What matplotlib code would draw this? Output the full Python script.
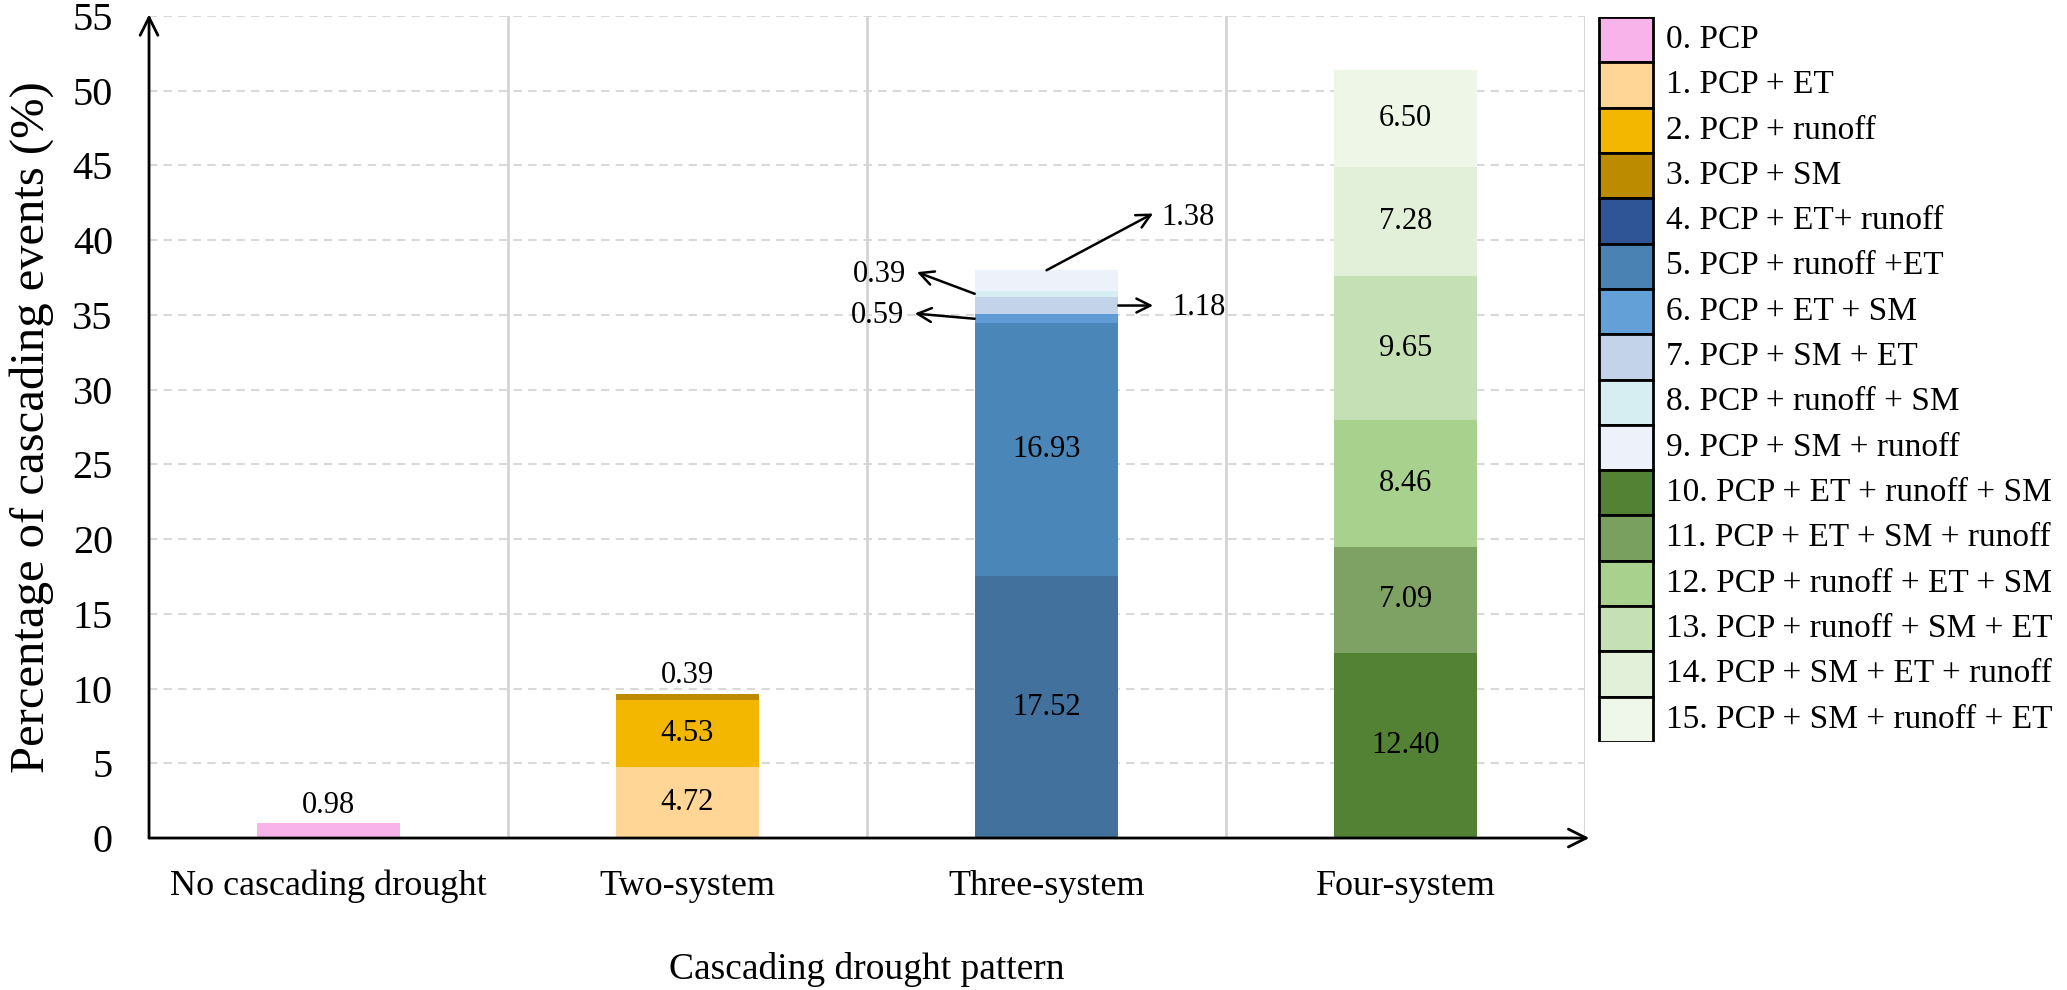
import numpy as np
import matplotlib
matplotlib.use("Agg")
import matplotlib.pyplot as plt
from matplotlib.patches import Rectangle

# categories on the x axis
patterns = ["No cascading drought", "Two-system", "Three-system", "Four-system"]

# the 16 cascading combinations, which pattern each belongs to and its share (%)
combo_labels = [
    "0. PCP",
    "1. PCP + ET",
    "2. PCP + runoff",
    "3. PCP + SM",
    "4. PCP + ET+ runoff",
    "5. PCP + runoff +ET",
    "6. PCP + ET + SM",
    "7. PCP + SM + ET",
    "8. PCP + runoff + SM",
    "9. PCP + SM + runoff",
    "10. PCP + ET + runoff + SM",
    "11. PCP + ET + SM + runoff",
    "12. PCP + runoff + ET + SM",
    "13. PCP + runoff + SM + ET",
    "14. PCP + SM + ET + runoff",
    "15. PCP + SM + runoff + ET",
]
combo_group = [0, 1, 1, 1, 2, 2, 2, 2, 2, 2, 3, 3, 3, 3, 3, 3]
combo_values = [0.98, 4.72, 4.53, 0.39, 17.52, 16.93, 0.59, 1.18, 0.39, 1.38,
                12.40, 7.09, 8.46, 9.65, 7.28, 6.50]

bar_colors = ["#f8b4ea", "#ffd696", "#f3b700", "#bd8b00", "#41719c", "#4a86b8",
              "#5f9bd5", "#c3d4ea", "#d6eef2", "#edf2fa", "#548235", "#7ea263",
              "#a9d18e", "#c5e0b4", "#e2f0d9", "#eef6e8"]
legend_colors = ["#f8b4ea", "#ffd696", "#f3b700", "#bd8b00", "#2f5597", "#4a82b4",
                 "#64a0d8", "#c3d4ea", "#d6eef2", "#edf2fa", "#548235", "#7aa060",
                 "#a9d18e", "#c5e0b4", "#e2f0d9", "#eef7ea"]

plt.rcParams["font.family"] = ["Liberation Serif", "DejaVu Serif"]

fig = plt.figure(figsize=(20.67, 9.9), dpi=100)
ax = fig.add_axes([0.0721, 0.1535, 0.6947, 0.8303])

x = np.arange(len(patterns))
width = 0.4
bottoms = np.zeros(len(patterns))
seg = {}
for i, (g, v) in enumerate(zip(combo_group, combo_values)):
    ax.bar(x[g], v, width, bottom=bottoms[g], color=bar_colors[i], edgecolor="none", zorder=3)
    seg[i] = (bottoms[g], bottoms[g] + v)
    bottoms[g] += v

# value labels
for i, (g, v) in enumerate(zip(combo_group, combo_values)):
    lo, hi = seg[i]
    if v > 3:
        ax.text(x[g], (lo + hi) / 2, f"{v:.2f}", ha="center", va="center", fontsize=22, zorder=4)

# small segments labelled above their bar
for i in [0, 3]:
    g = combo_group[i]
    ax.text(x[g], bottoms[g] + 0.25, f"{combo_values[i]:.2f}", ha="center", va="bottom",
            fontsize=22, zorder=4)

# small segments in the three-system bar with arrows
# (index: tail side, head offset, text offset, text alignment)
callouts = {
    9: ("top", (0.297, 3.8), (0.32, 3.5), "left"),
    8: ("left", (-0.161, 1.45), (-0.19, 1.3), "right"),
    6: ("left", (-0.167, 0.35), (-0.197, 0.25), "right"),
    7: ("right", (0.097, 0.0), (0.15, -0.1), "left"),
}
for i, (side, hoff, toff, ha) in callouts.items():
    g = combo_group[i]
    lo, hi = seg[i]
    if side == "top":
        tail = (x[g], hi)
    elif side == "left":
        tail = (x[g] - width / 2, (lo + hi) / 2)
    else:
        tail = (x[g] + width / 2, (lo + hi) / 2)
    head = (tail[0] + hoff[0], tail[1] + hoff[1])
    ax.annotate("", xy=head, xytext=tail,
                arrowprops=dict(arrowstyle="->", lw=1.8, color="black", mutation_scale=25,
                                shrinkA=0, shrinkB=0), zorder=5)
    ax.text(tail[0] + toff[0], tail[1] + toff[1], f"{combo_values[i]:.2f}", ha=ha, va="center",
            fontsize=22, zorder=5)

ax.set_xlim(-0.5, 3.5)
ax.set_ylim(0, 55)
ax.set_yticks(np.arange(0, 56, 5))
ax.set_xticks(x)
ax.set_xticklabels(patterns)
ax.tick_params(axis="y", length=0, pad=26, labelsize=29)
ax.tick_params(axis="x", length=0, pad=23, labelsize=26)

# grid
for yv in np.arange(5, 56, 5):
    ax.axhline(yv, color="#d9d9d9", lw=1.5, ls=(0, (4, 3)), zorder=1)
for xv in [0.5, 1.5, 2.5, 3.5]:
    ax.axvline(xv, color="#d4d4d4", lw=2, zorder=1)

for s in ax.spines.values():
    s.set_visible(False)
ax.annotate("", xy=(0, 1.002), xytext=(0, 0), xycoords="axes fraction",
            arrowprops=dict(arrowstyle="->", lw=2, color="black", mutation_scale=32,
                            shrinkA=0, shrinkB=0), annotation_clip=False)
ax.annotate("", xy=(1.003, 0), xytext=(0, 0), xycoords="axes fraction",
            arrowprops=dict(arrowstyle="->", lw=2, color="black", mutation_scale=32,
                            shrinkA=0, shrinkB=0), annotation_clip=False)

ax.set_ylabel("Percentage of cascading events (%)", fontsize=35)
ax.yaxis.set_label_coords(-0.066, 0.5)
ax.set_xlabel("Cascading drought pattern", fontsize=27)
ax.xaxis.set_label_coords(0.5, -0.139)

# legend column drawn in its own axes
lax = fig.add_axes([0.7731, 0.2505, 0.2269, 0.7323])
lax.set_xlim(0, 469)
lax.set_ylim(len(combo_labels), 0)
lax.axis("off")
for i, lab in enumerate(combo_labels):
    lax.add_patch(Rectangle((1, i), 54, 1, facecolor=legend_colors[i], edgecolor="black", lw=2))
    lax.text(68, i + 0.5, lab, ha="left", va="center", fontsize=24)

fig.savefig("out.png", dpi=100)
